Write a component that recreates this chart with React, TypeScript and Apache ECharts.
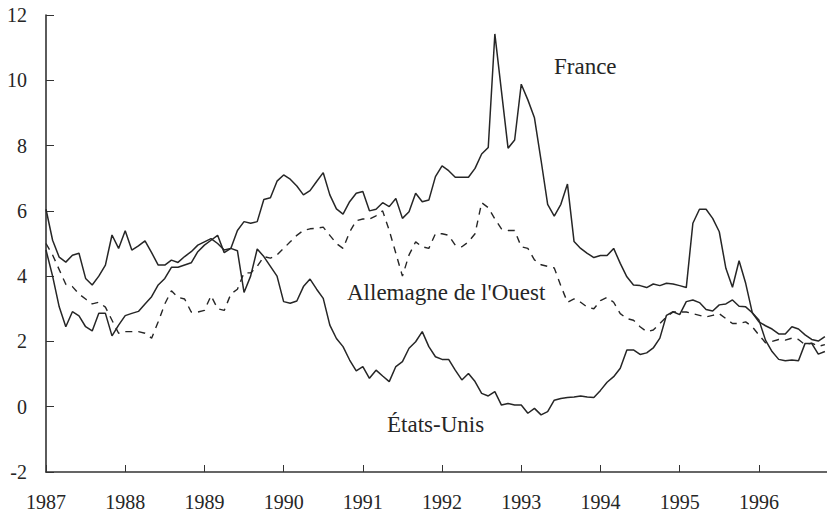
import React, { useEffect, useRef } from "react";
import * as echarts from "echarts";

const startYear = 1987;
const yearTicks = [1987, 1988, 1989, 1990, 1991, 1992, 1993, 1994, 1995, 1996];
const yMin = -2;
const yMax = 12;
const yStep = 2;

// Monthly values, January 1987 onwards
const france = [
  6.05, 5.1, 4.58, 4.43, 4.64, 4.7, 3.93, 3.73, 4.0, 4.34, 5.26, 4.85,
  5.39, 4.8, 4.93, 5.08, 4.72, 4.34, 4.34, 4.49, 4.42, 4.6, 4.75, 4.95,
  5.05, 5.15, 5.0, 4.8, 4.85, 5.4, 5.67, 5.62, 5.67, 6.35, 6.4, 6.91,
  7.1, 6.97, 6.76, 6.49, 6.62, 6.9, 7.17, 6.49, 6.06, 5.9, 6.28, 6.54,
  6.59, 6.0, 6.05, 6.25, 6.13, 6.38, 5.77, 5.97, 6.54, 6.28, 6.33, 7.05,
  7.38, 7.23, 7.03, 7.03, 7.03, 7.3, 7.74, 7.94, 11.42, 9.67, 7.92, 8.17,
  9.88, 9.4, 8.85, 7.55, 6.2, 5.84, 6.2, 6.82, 5.06, 4.85, 4.7, 4.57,
  4.63, 4.63, 4.85, 4.39, 3.98, 3.73, 3.71, 3.65, 3.76, 3.71, 3.78, 3.76,
  3.71, 3.65, 5.62, 6.05, 6.05, 5.77, 5.36, 4.24, 3.66, 4.47, 3.78, 2.88,
  2.6, 2.48, 2.38, 2.23, 2.23, 2.45, 2.38, 2.2, 2.06, 2.01, 2.15,
];

const allemagne = [
  5.0, 4.65, 4.2, 3.75, 3.68, 3.45, 3.3, 3.15, 3.2, 3.05, 2.65, 2.25,
  2.3, 2.3, 2.3, 2.25, 2.1, 2.6, 3.15, 3.55, 3.35, 3.3, 2.9, 2.9,
  2.95, 3.4, 3.0, 2.95, 3.45, 3.6, 4.1, 4.1, 4.3, 4.6, 4.55, 4.65,
  4.85, 5.05, 5.25, 5.4, 5.45, 5.47, 5.5, 5.25, 5.0, 4.85, 5.35, 5.7,
  5.75, 5.75, 5.85, 6.0, 5.4, 4.7, 4.0, 4.65, 5.05, 4.9, 4.85, 5.3,
  5.3, 5.25, 4.95, 4.9, 5.05, 5.3, 6.25, 6.1, 5.75, 5.45, 5.4, 5.4,
  4.9, 4.85, 4.5, 4.35, 4.3, 4.25, 3.7, 3.2, 3.3, 3.2, 3.05, 3.0,
  3.25, 3.35, 3.2, 2.85, 2.7, 2.65, 2.45, 2.3, 2.35, 2.55, 2.75, 2.9,
  2.9, 2.9, 2.85, 2.8, 2.75, 2.8, 2.85, 2.7, 2.55, 2.55, 2.6, 2.45,
  2.2, 1.96, 2.0, 2.06, 2.04, 2.1, 2.06, 1.9, 1.95, 1.85, 1.9,
];

const etatsUnis = [
  4.8, 4.0, 3.06, 2.45, 2.91, 2.78, 2.45, 2.32, 2.86, 2.86, 2.17, 2.5,
  2.79, 2.86, 2.92, 3.15, 3.37, 3.73, 3.93, 4.27, 4.27, 4.34, 4.41, 4.75,
  4.95, 5.1, 5.25, 4.72, 4.85, 4.78, 3.5, 4.0, 4.83, 4.6, 4.3, 4.0,
  3.22, 3.17, 3.24, 3.68, 3.91, 3.6, 3.32, 2.5, 2.09, 1.84, 1.43, 1.1,
  1.23, 0.87, 1.12, 0.94, 0.77, 1.23, 1.38, 1.79, 1.99, 2.3, 1.84, 1.53,
  1.45, 1.45, 1.12, 0.82, 1.02, 0.77, 0.41, 0.33, 0.46, 0.05, 0.1, 0.05,
  0.05, -0.2, -0.05, -0.25, -0.15, 0.2, 0.25, 0.28, 0.3, 0.33, 0.3, 0.28,
  0.5, 0.75, 0.92, 1.18, 1.74, 1.74, 1.6, 1.65, 1.8, 2.1, 2.8, 2.91,
  2.82, 3.22, 3.27, 3.19, 2.98, 2.93, 3.12, 3.15, 3.27, 3.08, 3.06, 2.88,
  2.66, 2.04, 1.69, 1.45, 1.41, 1.43, 1.41, 1.94, 1.94, 1.61, 1.69,
];

const labels = {
  france: "France",
  allemagne: "Allemagne de l'Ouest",
  etatsUnis: "États-Unis",
};

const toPairs = (arr: number[]) => arr.map((v, i) => [startYear + i / 12, v]);

const FONT = "Liberation Serif";
const INK = "#262626";

export default function App() {
  const ref = useRef<HTMLDivElement>(null);

  useEffect(() => {
    if (!ref.current) return;
    const chart = echarts.init(ref.current, undefined, { renderer: "svg" });
    const lineBase = { type: "line", showSymbol: false, symbol: "none", clip: true };
    const annot = (text: string, x: number, y: number) => ({
      type: "text",
      x,
      y,
      style: {
        text,
        fontFamily: FONT,
        fontSize: 23,
        fill: INK,
        align: "left",
        verticalAlign: "middle",
      },
    });
    chart.setOption({
      animation: false,
      backgroundColor: "#fff",
      grid: { left: 46, right: 0, top: 15, bottom: 42, containLabel: false },
      xAxis: {
        type: "value",
        min: 1987,
        max: 1996.86,
        interval: 1,
        axisLine: { show: true, onZero: false, lineStyle: { color: "#333", width: 1.6 } },
        axisTick: {
          show: true,
          inside: true,
          length: 7,
          customValues: yearTicks,
          lineStyle: { color: "#333", width: 1 },
        },
        axisLabel: {
          customValues: yearTicks,
          formatter: (v: number) => String(Math.round(v)),
          fontFamily: FONT,
          fontSize: 20,
          color: INK,
          margin: 20,
        },
        splitLine: { show: false },
      },
      yAxis: {
        type: "value",
        min: yMin,
        max: yMax,
        interval: yStep,
        axisLine: { show: true, lineStyle: { color: "#333", width: 1.6 } },
        axisTick: { show: true, inside: true, length: 8, lineStyle: { color: "#333", width: 1 } },
        axisLabel: { fontFamily: FONT, fontSize: 20, color: INK, margin: 19 },
        splitLine: { show: false },
      },
      series: [
        {
          ...lineBase,
          name: labels.france,
          data: toPairs(france),
          lineStyle: { color: "#262626", width: 1.5 },
        },
        {
          ...lineBase,
          name: labels.allemagne,
          data: toPairs(allemagne),
          lineStyle: { color: "#262626", width: 1.4, type: [7, 6] },
        },
        {
          ...lineBase,
          name: labels.etatsUnis,
          data: toPairs(etatsUnis),
          lineStyle: { color: "#262626", width: 1.5 },
        },
      ],
      graphic: [
        annot(labels.france, 554, 66),
        annot(labels.allemagne, 347, 292),
        annot(labels.etatsUnis, 387, 424),
      ],
    });
    return () => chart.dispose();
  }, []);

  return (
    <div
      ref={ref}
      style={{ position: "fixed", left: 0, top: 0, width: 827, height: 514, background: "#fff" }}
    />
  );
}
